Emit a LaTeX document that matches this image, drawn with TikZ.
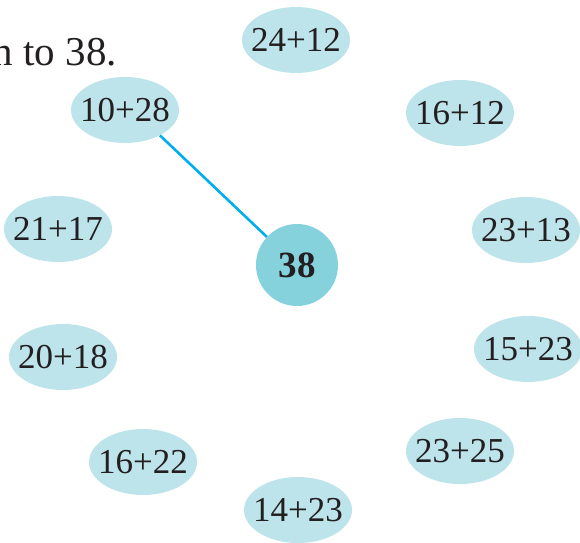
\documentclass[tikz,border=0pt]{standalone}
\usepackage{fontspec}
\setmainfont{Liberation Serif}
\usetikzlibrary{shapes.geometric}
\definecolor{SumFill}{HTML}{BDE4EA}
\definecolor{HubFill}{HTML}{85D2DD}
\definecolor{LinkA}{HTML}{00AEEF}
\definecolor{TextA}{HTML}{231F20}
\tikzset{
  sum/.style={ellipse, fill=SumFill, minimum width=108pt, minimum height=66pt,
              inner xsep=-7.5pt, inner ysep=0pt, text=TextA,
              font=\fontsize{35}{40}\selectfont},
  hub/.style={circle, fill=HubFill, minimum size=82pt, inner sep=0pt,
              text=TextA, font=\fontsize{37}{42}\selectfont\bfseries},
  link/.style={draw=LinkA, line width=2.6pt},
  head/.style={text=TextA, font=\fontsize{41}{46}\selectfont, inner sep=0pt},
}

\begin{document}
\begin{tikzpicture}[x=1pt, y=-1pt]
  \useasboundingbox (0,0) rectangle (580,542);
  \clip (0,0) rectangle (580,542);
  \node[head, anchor=base east] (title) at (117,65) {n to 38.};

  \node[hub] (c38) at (297,265) {38};

  \node[sum] (s2412) at (296,40)  {24+12};
  \node[sum] (s1028) at (125,110) {10+28};
  \node[sum] (s1612) at (460,113) {16+12};
  \node[sum] (s2117) at (58,229)  {21+17};
  \node[sum] (s2313) at (526,230) {23+13};
  \node[sum] (s2018) at (63,357)  {20+18};
  \node[sum] (s1523) at (528,349) {15+23};
  \node[sum] (s1622) at (143,462) {16+22};
  \node[sum] (s2325) at (460,451) {23+25};
  \node[sum] (s1423) at (298,510) {14+23};

  \draw[link] (s1028.-36) -- (c38.137);
\end{tikzpicture}
\end{document}
